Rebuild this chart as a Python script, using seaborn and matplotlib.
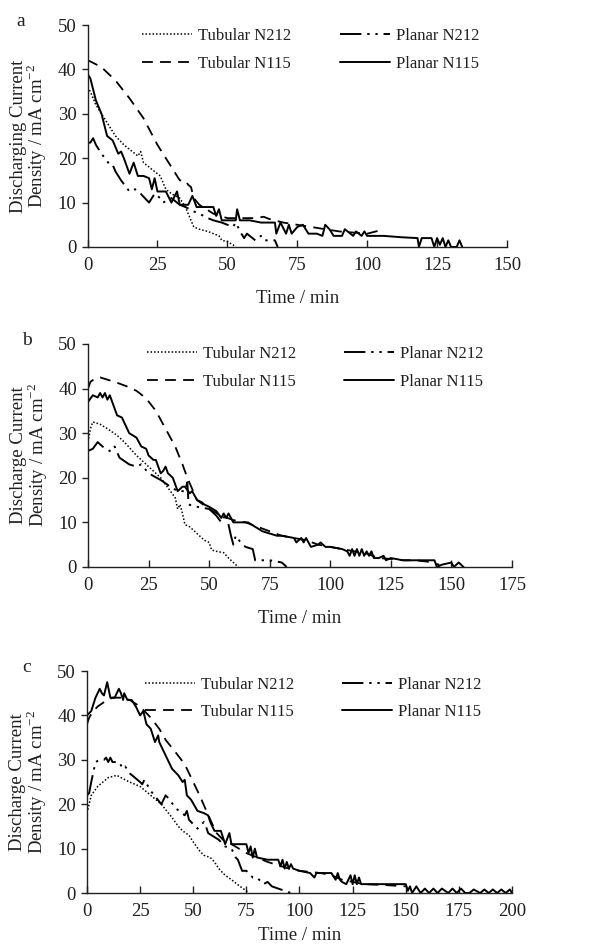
import matplotlib
matplotlib.use("Agg")
import matplotlib.pyplot as plt
import seaborn as sns

# ---------------- data ----------------
# Panel a
A_TUB212_T = [0, 1, 3, 5, 8, 10, 13, 17, 18, 19, 20, 22, 24, 26, 28, 30, 33, 35, 37, 38, 40, 43, 45, 47, 48, 50, 52, 53]
A_TUB212_Y = [36, 35, 32, 30, 27, 25, 23, 21, 20.5, 21.5, 19, 18, 17, 16, 13, 12, 11, 9, 6, 4.5, 4, 3.5, 3, 2.5, 1.5, 1.2, 0.5, 0]
A_TUB115_T = [0, 1, 5, 10, 15, 20, 25, 30, 33, 35, 36, 37, 38, 40, 45, 50, 55, 60, 63, 65, 70, 80, 90, 100, 105]
A_TUB115_Y = [42, 41.8, 40.5, 37.5, 33.5, 29, 23, 18, 15, 15, 14, 13.5, 11, 9.5, 7.5, 6.5, 6.5, 6.5, 6.8, 6.3, 5.5, 4.5, 3.5, 3, 3.8]
A_PLA212_T = [0, 1, 2, 3, 5, 8, 9, 10, 12, 15, 17, 19, 22, 24, 26, 27, 30, 33, 35, 38, 40, 43, 45, 48, 50, 52, 53, 55, 56, 57, 58, 60, 62, 63, 65, 67, 68]
A_PLA212_Y = [23.5, 23.5, 24.5, 23, 21, 18.5, 18.5, 17, 15, 12.5, 13, 12, 10, 12, 11, 10, 11, 9.5, 9, 8, 7.5, 6.5, 6, 5.5, 5, 4.5, 5.5, 3, 2, 3, 2.5, 1.5, 2.5, 1.5, 1.5, 1.5, 0]
A_PLA115_T = [0, 1, 3, 5, 7, 9, 11, 12, 13, 15, 16.5, 18, 20, 22, 23, 24, 25, 28, 30, 32, 33, 36, 37.5, 39, 41, 45, 46, 47, 48, 50, 53, 53.5, 54.5, 58, 62, 67, 67.5, 69, 71, 72, 73, 75, 77, 79, 82, 84, 85, 86.5, 88, 91, 92, 95, 96, 98, 99, 100, 106, 112, 118, 118.5, 119.5, 123, 124, 125, 126, 127, 128, 129, 130, 132, 133, 134]
A_PLA115_Y = [39, 38, 33, 30, 25, 24, 21, 21.5, 20, 16.5, 19, 16, 16, 15.5, 13, 15.5, 12.5, 12.5, 10, 12.5, 9.5, 9.5, 11.5, 9, 9, 9, 7, 8.5, 6, 6, 6, 8.5, 6, 6, 5.5, 5.5, 3, 5.5, 3, 5, 3, 4.5, 5, 3, 3, 2.5, 5, 4, 2.5, 2.5, 4, 2.5, 3.5, 2.5, 3.5, 2.5, 2.5, 2.2, 2, 0, 2, 2, 0, 2, 0.5, 2, 0, 1.5, 0, 0, 1.5, 0]

# Panel b
B_TUB212_T = [0, 1, 2, 5, 8, 12, 15, 20, 25, 30, 32, 34, 36, 37, 38, 39, 40, 42, 44, 46, 48, 50, 51, 53, 56, 58, 60, 62]
B_TUB212_Y = [28, 31, 32.5, 32, 31, 29.5, 28, 25, 22.5, 20, 18.5, 17, 15.5, 13, 14, 12, 9.5, 9, 8, 7, 6, 5.5, 3.8, 3.5, 3.2, 2, 1, 0]
B_TUB115_T = [0, 1, 3, 5, 8, 12, 16, 20, 24, 28, 32, 36, 39, 41, 43, 45, 50, 55, 60, 65, 70, 75, 80, 85, 90, 95, 100, 105, 110, 115, 120, 125, 130, 135, 140, 145]
B_TUB115_Y = [40, 41.5, 42.3, 42.5, 42, 41.3, 40.5, 39.5, 37.8, 35, 31, 27, 23, 20, 17.5, 15, 13, 11.5, 10.5, 10, 9, 8, 7, 6.5, 6, 5, 4.5, 4, 3.5, 3, 2, 1.8, 1.5, 1.5, 1.2, 0.5]
B_PLA212_T = [0, 2, 4, 6, 9, 10, 11, 13, 17, 20, 22, 25, 30, 34, 37, 40, 41, 41.5, 45, 50, 53, 55, 57, 58, 59, 60, 61, 63, 65, 68, 69, 72, 75, 80, 82]
B_PLA212_Y = [26, 26.5, 28, 27, 26, 26, 27, 24.5, 23, 22.5, 23, 21, 19.5, 18, 17, 17, 19, 14, 13.5, 13, 11.5, 10, 12, 9.5, 7, 5, 7, 5.5, 4.5, 4, 1.5, 1.5, 1.5, 1, 0]
B_PLA115_T = [0, 2, 4, 5, 6, 7, 8, 9, 10, 12, 14, 17, 20, 22, 24, 25, 27, 28, 30, 31, 32, 33, 35, 37, 39, 40, 42, 43, 45, 47, 48, 50, 53, 55, 56, 57, 58, 60, 63, 66, 69, 72, 75, 78, 80, 85, 86, 88, 89, 90, 92, 95, 96, 98, 100, 105, 107, 108, 109, 110, 111, 112, 113, 114, 115, 116, 117, 118, 120, 122, 123, 125, 130, 135, 143, 144, 146, 150, 151, 153, 155]
B_PLA115_Y = [37, 38.5, 38, 39, 38, 39, 37.5, 38.5, 37, 34, 33.5, 30, 29, 27, 26.5, 25, 24, 24, 21, 21.5, 22.5, 21, 20, 17, 18, 18, 16.5, 17, 15, 14.5, 14, 13.5, 12.5, 11, 12, 11, 12, 10, 10, 10, 9, 8, 7.5, 7, 7, 6.5, 5.5, 6.5, 5.5, 6.5, 4.5, 5, 5.5, 4.5, 4.5, 4, 3.5, 2.5, 4, 2.5, 4, 2.5, 4, 2.5, 3.5, 2.5, 3.5, 2, 2, 2.5, 1.5, 2, 1.5, 1.5, 1.5, 0, 0.5, 1, 0, 1, 0]

# Panel c
C_TUB212_T = [0, 2, 5, 10, 14, 20, 25, 30, 35, 40, 43, 45, 48, 50, 53, 55, 58, 60, 62, 65, 68, 72, 75, 76]
C_TUB212_Y = [18, 22, 24, 26, 26.5, 25, 24, 22, 20, 17, 15, 14, 13, 11.5, 9.5, 8.5, 8, 7, 5.5, 4, 3, 1.5, 0.5, 0]
C_TUB115_T = [0, 1, 3, 5, 8, 12, 16, 20, 25, 30, 34, 37, 42, 46, 50, 53, 56, 59, 61, 64, 68, 75, 85, 95, 100, 110, 115, 120, 130, 140, 150]
C_TUB115_Y = [38, 39.5, 41, 42, 43, 44, 44, 43.5, 42, 39.5, 37, 34.5, 31.5, 29, 25, 22, 18.7, 15.5, 13.5, 12, 11, 9, 7, 5.5, 5, 4.5, 4, 3, 2, 1.8, 1.5]
C_PLA212_T = [0, 1, 2, 4, 6, 8, 9, 10, 11, 12, 15, 17, 18, 20, 25, 26, 27, 30, 35, 37, 38, 42, 46, 47, 48, 52, 54, 55, 56, 57, 62, 65, 68, 70, 71, 73, 75, 78, 80, 83, 85, 87, 90, 93, 96]
C_PLA212_Y = [22, 22.5, 25, 29.5, 30, 30, 30.5, 29.5, 30.5, 29.5, 29.5, 28, 28.5, 27, 25, 24.5, 25.5, 23, 20, 22, 21.5, 19, 17.5, 18.5, 16.5, 14.5, 15.5, 16, 15, 13.5, 12, 10.5, 10, 8, 7.5, 5, 5, 3.5, 3.5, 2, 2.5, 1.5, 1, 0.5, 0]
C_PLA115_T = [0, 2, 4, 6, 7, 8, 9.5, 11, 13, 15, 16, 17, 17.5, 19, 21, 23, 25, 26.5, 28, 30, 32, 33.5, 34, 36, 38, 40, 43, 45, 46, 47, 49, 52, 55, 57, 58, 60, 62, 63, 65, 67, 68, 72, 75, 76, 77, 78, 79, 80, 85, 88, 90, 91, 92, 93, 94, 95, 96, 97, 100, 105, 107, 108, 110, 115, 117, 118, 119, 120, 122, 124, 125, 126, 127, 128, 129, 130, 140, 150, 151, 152, 153, 155, 157, 159, 161, 163, 165, 167, 170, 172, 174, 176, 178, 180, 182, 185, 187, 189, 191, 193, 195, 197, 199, 200]
C_PLA115_Y = [40, 41, 44, 46, 45, 44.5, 47.5, 44, 44, 46, 45, 43.5, 45, 43.5, 43.5, 42, 40, 41, 38, 37, 34, 35.5, 34, 32, 30, 28, 26.5, 25, 25.5, 22, 21, 18.5, 18, 17.5, 16, 14, 14, 14, 11, 13.5, 11, 11, 11, 9, 10.5, 8, 10, 8, 7.5, 7.5, 7.5, 6, 7.5, 5.5, 7, 5.5, 6.5, 5.5, 5, 4.5, 3.5, 4.5, 4.5, 4.5, 3, 4.5, 3, 2.5, 2, 4, 2, 4, 2, 3.5, 2, 2, 2, 2, 0.5, 1.5, 0, 1.5, 0, 1, 0, 1, 0, 1, 0, 1, 0, 1, 0, 0, 0.8, 0, 0.8, 0, 0.8, 0, 0.8, 0, 0.8, 0]

LABELS = ["Tubular N212", "Tubular N115", "Planar N212", "Planar N115"]
PANELS = ["a", "b", "c"]
YLABELS = ["Discharging Current\nDensity / mA cm$^{\\mathregular{-2}}$",
           "Discharge Current\nDensity / mA cm$^{\\mathregular{-2}}$",
           "Discharge Current\nDensity / mA cm$^{\\mathregular{-2}}$"]
XMAX = [150, 175, 200]
YTICKS = [0, 10, 20, 30, 40, 50]

# ---------------- style ----------------
sns.set_style("ticks")
plt.rcParams["font.family"] = ["Liberation Serif", "DejaVu Serif"]
plt.rcParams["mathtext.fontset"] = "custom"
plt.rcParams["mathtext.rm"] = "Liberation Serif"
TXT = "#231f20"
plt.rcParams["text.color"] = TXT
plt.rcParams["axes.labelcolor"] = TXT
plt.rcParams["xtick.color"] = TXT
plt.rcParams["ytick.color"] = TXT
plt.rcParams["axes.edgecolor"] = TXT

STYLES = [(0, (1, 1.3)), (0, (6, 4)), (0, (11, 3, 1.2, 3, 1.2, 3)), "-"]
LW = [1.1, 1.3, 1.4, 1.4]

fig = plt.figure(figsize=(5.93, 9.47), dpi=100)
positions = [
    [0.1476, 0.7392, 0.7074, 0.2344],
    [0.1484, 0.4013, 0.7150, 0.2355],
    [0.1467, 0.0570, 0.7167, 0.2344],
]

data = [
    [(A_TUB212_T, A_TUB212_Y), (A_TUB115_T, A_TUB115_Y), (A_PLA212_T, A_PLA212_Y), (A_PLA115_T, A_PLA115_Y)],
    [(B_TUB212_T, B_TUB212_Y), (B_TUB115_T, B_TUB115_Y), (B_PLA212_T, B_PLA212_Y), (B_PLA115_T, B_PLA115_Y)],
    [(C_TUB212_T, C_TUB212_Y), (C_TUB115_T, C_TUB115_Y), (C_PLA212_T, C_PLA212_Y), (C_PLA115_T, C_PLA115_Y)],
]
legend_x = [0.13, 0.139, 0.136]
legend_y = [0.985, 0.99, 0.975]
xlabelpad = [12, 12, 5.5]
panel_x = [0.028, 0.038, 0.038]

for i in range(3):
    ax = fig.add_axes(positions[i])
    for j, (t, y) in enumerate(data[i]):
        sns.lineplot(x=t, y=y, ax=ax, color="black", linestyle=STYLES[j], linewidth=LW[j],
                     label=LABELS[j], sort=False, estimator=None)
    ax.set_xlim(0, XMAX[i])
    ax.set_ylim(0, 50)
    ax.set_xticks(list(range(0, XMAX[i] + 1, 25)))
    ax.set_yticks(YTICKS)
    ax.tick_params(axis="x", direction="in", length=5, width=1.0, labelsize=13.5, pad=7)
    ax.tick_params(axis="y", direction="out", length=4, width=1.0, labelsize=13.5, pad=4)
    for s in ["top", "right"]:
        ax.spines[s].set_visible(False)
    for s in ["left", "bottom"]:
        ax.spines[s].set_linewidth(1.0)
    ax.set_xlabel("Time / min", fontsize=13.5, labelpad=xlabelpad[i])
    ax.set_ylabel(YLABELS[i], fontsize=13.5, labelpad=6, linespacing=0.88)
    ax.legend(ncol=2, loc="upper left", bbox_to_anchor=(legend_x[i], legend_y[i]), frameon=False,
              fontsize=12, handlelength=3.0, handletextpad=0.36, columnspacing=2.9,
              labelspacing=0.68, borderpad=0, borderaxespad=0)
    fig.text(panel_x[i], positions[i][1] + positions[i][3] + 0.004, PANELS[i], fontsize=14,
             ha="left", va="center", color=TXT)

fig.savefig("out.png", dpi=100)
